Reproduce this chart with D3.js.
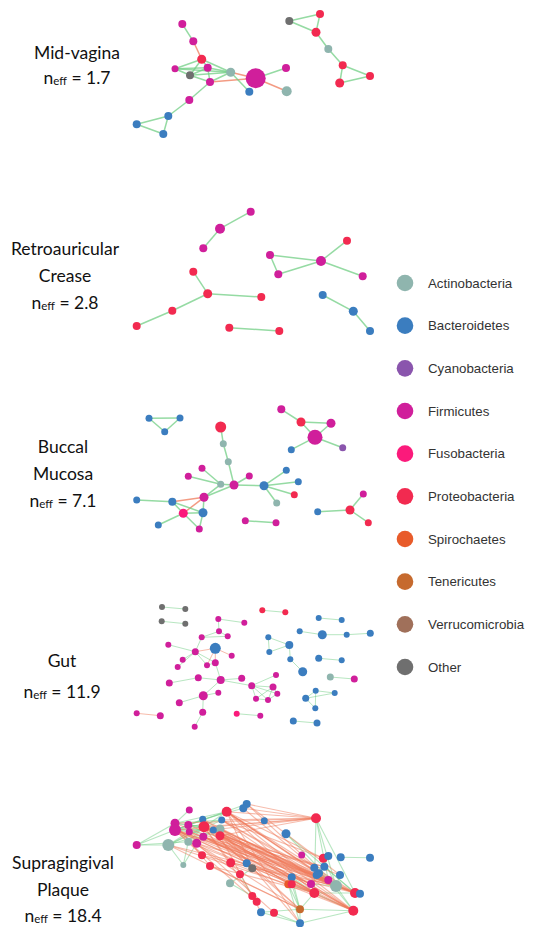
<!DOCTYPE html>
<html>
<head>
<meta charset="utf-8">
<script src="https://cdn.jsdelivr.net/npm/d3@7/dist/d3.min.js"></script>
<style>
  body { margin: 0; background: #fff; }
  svg { display: block; }
  .label { font-family: Lato, "Open Sans", sans-serif; fill: #111; }
  .legend text { font-family: "Liberation Sans", Arial, sans-serif; font-size: 13.3px; fill: #333; }
</style>
</head>
<body>
<div id="chart"></div>
<script>
var w = 539;
var h = 927;

// phyla shown in the legend
var phyla = ["Actinobacteria", "Bacteroidetes", "Cyanobacteria", "Firmicutes", "Fusobacteria",
  "Proteobacteria", "Spirochaetes", "Tenericutes", "Verrucomicrobia", "Other"];
var phylaCodes = ["Act", "Bac", "Cya", "Fir", "Fus", "Pro", "Spi", "Ten", "Ver", "Oth"];
var phylaColors = ["#8fb5ae", "#3b7dbf", "#8a55ad", "#d01f9b", "#fb1a7b",
  "#f22a50", "#e85b2a", "#c66a2e", "#a0705a", "#6f6f6f"];

// body sites, top to bottom
var sites = ["Mid-vagina", "Retroauricular Crease", "Buccal Mucosa", "Gut", "Supragingival Plaque"];
var siteLines = [["Mid-vagina"], ["Retroauricular", "Crease"], ["Buccal", "Mucosa"], ["Gut"], ["Supragingival", "Plaque"]];
var neff = ["1.7", "2.8", "7.1", "11.9", "18.4"];

// nodes: [x, y, phylum, size] in layout units of each panel
var vaginaNodes = [
  [52.3, 24, "Fir", 4], [63.3, 41.3, "Fir", 4], [71.7, 59.3, "Pro", 4.5], [45, 68.7, "Fir", 3.5],
  [60, 75.3, "Oth", 4], [77.7, 67.7, "Fir", 4], [80, 82, "Fir", 4], [100.7, 72.3, "Act", 4.5],
  [125.7, 78.3, "Fir", 10], [156, 68, "Fir", 4], [156.7, 91.3, "Act", 5], [119.3, 91.7, "Bac", 4],
  [59.3, 100, "Fir", 4], [38.3, 116, "Bac", 4], [6.7, 124.3, "Bac", 4], [33.3, 134, "Bac", 4],
  [159.3, 21, "Oth", 4], [190, 14, "Pro", 4], [186, 32.3, "Pro", 4.5], [198.3, 49, "Act", 4],
  [212.7, 65.3, "Pro", 4], [240, 76, "Pro", 4], [209.7, 83, "Pro", 4.5]
];
// edges: [source, target, sign] (1 = positive, -1 = negative)
var vaginaEdges = [
  [0, 1, 1], [1, 2, -1], [2, 3, 1], [2, 4, 1], [2, 5, 1], [2, 7, 1], [3, 4, 1], [3, 5, 1], [3, 7, 1],
  [4, 5, 1], [4, 6, 1], [4, 7, 1], [5, 6, 1], [5, 7, 1], [6, 7, 1], [6, 8, -1], [7, 8, -1],
  [8, 10, -1], [8, 9, 1], [7, 11, 1], [6, 12, 1], [12, 13, 1], [13, 14, 1], [14, 15, 1], [13, 15, 1],
  [16, 17, 1], [16, 18, 1], [17, 18, 1], [18, 19, 1], [19, 20, 1], [20, 22, 1], [20, 21, 1], [21, 22, 1]
];

var skinNodes = [
  [120.7, 11.7, "Fir", 4], [90, 28.7, "Fir", 5], [73.3, 48.3, "Fir", 4], [140, 55, "Fir", 4],
  [148.3, 74.3, "Fir", 4], [191, 61, "Fir", 5], [217, 40.7, "Pro", 4], [232.7, 76.3, "Fir", 4],
  [63.3, 71.7, "Pro", 4], [77.7, 93.7, "Pro", 4.5], [131.3, 97, "Pro", 4], [42.3, 110.7, "Pro", 4],
  [6.7, 126, "Pro", 4], [99.3, 127.7, "Pro", 4], [149.3, 131, "Pro", 4], [192.7, 95, "Bac", 4],
  [223.3, 111.3, "Bac", 4.5], [240, 131, "Bac", 4]
];
var skinEdges = [
  [0, 1, 1], [1, 2, 1], [3, 4, 1], [3, 5, 1], [4, 5, 1], [5, 6, 1], [5, 7, 1], [8, 9, 1],
  [9, 10, 1], [9, 11, 1], [11, 12, 1], [13, 14, 1], [15, 16, 1], [16, 17, 1]
];

var buccalNodes = [
  [19, 23.3, "Bac", 3.5], [50, 23, "Bac", 3.5], [34.7, 36.7, "Bac", 3.5], [151.3, 14.3, "Fir", 4],
  [171, 27, "Pro", 4.5], [201, 28.3, "Fir", 4.5], [185, 42.3, "Fir", 7.5], [161.3, 54.7, "Bac", 3.5],
  [212.7, 52.7, "Cya", 3.5], [90.7, 32, "Pro", 5.5], [93.3, 48.7, "Act", 3.5], [98.3, 66.7, "Act", 3.5],
  [72, 73.3, "Fir", 3.5], [58.3, 81.3, "Fir", 3.5], [90.7, 89.3, "Act", 3.5], [104, 90, "Fir", 4.5],
  [119.3, 81, "Fir", 3.5], [134, 90.7, "Bac", 4.5], [156.3, 75.3, "Bac", 3.5], [168.3, 86.7, "Bac", 3.5],
  [164.3, 99.7, "Pro", 3.5], [146.7, 108, "Act", 3.5], [74, 102.3, "Fir", 4.5], [6.7, 105, "Bac", 3.5],
  [42.3, 106.7, "Bac", 4], [53.3, 118.3, "Fus", 4.5], [73, 117.7, "Bac", 4.5], [28.3, 130, "Bac", 3.5],
  [69.3, 134, "Fir", 3.5], [115.3, 125.7, "Fir", 3.5], [146, 127.7, "Fir", 3.5], [187.7, 116.7, "Bac", 3.5],
  [220, 115, "Pro", 4.5], [233.3, 99, "Fir", 3.5], [238.3, 127.7, "Pro", 3.5]
];
var buccalEdges = [
  [0, 1, 1], [1, 2, 1], [0, 2, 1], [3, 4, 1], [4, 5, 1], [4, 6, 1], [5, 6, 1], [6, 7, 1], [6, 8, 1],
  [9, 10, 1], [10, 11, 1], [11, 15, 1], [12, 14, 1], [13, 14, 1], [14, 15, 1], [16, 15, 1], [15, 17, 1],
  [17, 18, 1], [17, 19, 1], [17, 20, 1], [17, 21, 1], [15, 22, 1], [14, 22, 1], [22, 24, -1], [22, 25, -1],
  [23, 24, 1], [24, 26, 1], [25, 26, 1], [22, 26, 1], [24, 25, 1], [25, 27, 1], [25, 28, 1], [26, 28, 1],
  [29, 30, 1], [31, 32, 1], [32, 33, 1], [32, 34, 1]
];

var gutNodes = [
  [32, 12, "Oth", 3], [55.3, 14, "Oth", 3], [31.7, 26.3, "Oth", 3], [55.3, 28.7, "Oth", 3],
  [132.3, 15.3, "Pro", 3], [155.3, 17.3, "Pro", 3], [188.7, 23, "Bac", 3], [211.7, 25, "Bac", 3],
  [169.7, 36.3, "Bac", 3], [192.3, 39.7, "Bac", 4.5], [216.7, 39.7, "Bac", 3], [240.3, 38.3, "Bac", 3.5],
  [138.3, 42.3, "Bac", 3], [159.3, 50, "Bac", 4], [139.3, 57, "Bac", 3], [160.3, 64.3, "Bac", 3],
  [172.7, 76.7, "Bac", 4.5], [188.7, 63.3, "Bac", 3.5], [211.7, 65.3, "Bac", 3], [200.3, 82, "Act", 3.5],
  [224.3, 84, "Fir", 3.5], [185.7, 95.7, "Bac", 3], [204.7, 98, "Bac", 3], [175.7, 103.3, "Bac", 3.5],
  [185.3, 113.3, "Bac", 3], [163.3, 126, "Bac", 3.5], [187, 128, "Bac", 3.5],
  [88.3, 24, "Fir", 3], [114.3, 27.7, "Fir", 3], [89, 36.3, "Fir", 3], [71.7, 42.3, "Fir", 3],
  [97.7, 41.3, "Fir", 3], [38.3, 49.7, "Fir", 3], [85.3, 53.3, "Bac", 5.5], [65.3, 56.7, "Fir", 3.5],
  [101.7, 60.7, "Fir", 3], [52.7, 64.7, "Fir", 3], [77, 70.3, "Fir", 3], [85.3, 67.7, "Fir", 3.5],
  [47.7, 72, "Fir", 3], [68.3, 82.7, "Fir", 3.5], [90.7, 85, "Fir", 4], [111.7, 83.3, "Fir", 3.5],
  [39.3, 88, "Fir", 3.5], [146, 80, "Fir", 3], [121.7, 90.7, "Fir", 3.5], [143, 92, "Fir", 3.5],
  [73.3, 100.7, "Fir", 4.5], [88.3, 97.7, "Fir", 3], [147.3, 98.7, "Fir", 3], [126, 103.7, "Fir", 3],
  [138, 105, "Fir", 3], [49.3, 107.7, "Fir", 3.5], [72.7, 117.3, "Fir", 3.5], [64.7, 131.7, "Fir", 3],
  [6.7, 118.3, "Fir", 3], [30.3, 120.7, "Fir", 3.5], [106.7, 118.7, "Fus", 3], [130.3, 120.7, "Fir", 3]
];
var gutEdges = [
  [0, 1, 1], [2, 3, 1], [4, 5, 1], [6, 7, 1], [8, 9, 1], [9, 10, 1], [10, 11, 1], [12, 13, 1],
  [12, 14, 1], [13, 14, 1], [13, 15, 1], [15, 16, 1], [17, 18, 1], [19, 20, 1], [21, 22, 1],
  [21, 23, 1], [23, 24, 1], [21, 24, 1], [22, 23, 1], [25, 26, 1],
  [27, 28, 1], [27, 29, 1], [29, 30, 1], [29, 31, 1], [30, 31, 1], [30, 34, 1], [32, 34, 1],
  [33, 34, -1], [33, 35, -1], [33, 37, -1], [33, 38, -1], [34, 37, 1], [34, 36, 1], [34, 38, 1],
  [37, 38, 1], [39, 34, 1], [38, 41, 1], [40, 41, 1], [41, 42, 1], [41, 45, 1], [43, 40, 1],
  [41, 47, 1], [47, 48, 1], [47, 52, 1], [47, 53, 1], [53, 54, 1], [45, 44, 1], [45, 46, 1],
  [45, 49, 1], [45, 50, 1], [45, 51, 1], [46, 49, 1], [46, 50, 1], [46, 51, 1], [49, 51, 1],
  [50, 51, 1], [55, 56, -1], [57, 58, 1]
];

var plaqueNodes = [
  [116.7, 9, "Bac", 4], [113.3, 13.3, "Bac", 4], [96.7, 16.7, "Pro", 5], [59.3, 15, "Fir", 3.5],
  [72.7, 24.3, "Bac", 3.5], [91.7, 25, "Bac", 3.5], [45, 28.3, "Fir", 4.5], [45, 35, "Fir", 6],
  [58.3, 30, "Fir", 4], [74, 31.7, "Pro", 5.5], [90, 34, "Act", 4.5], [83.3, 35, "Bac", 3.5],
  [59.3, 36.7, "Fir", 3.5], [73.3, 41.7, "Fir", 4], [90, 40.7, "Pro", 4.5], [58.3, 46.7, "Act", 4],
  [38.3, 50, "Act", 6], [66.7, 48.3, "Fir", 4.5], [6.7, 50, "Fir", 4], [134.3, 25.7, "Bac", 3.5],
  [186, 23.3, "Pro", 5], [156, 38.7, "Bac", 4.5], [72, 60.3, "Pro", 4], [53.3, 70, "Act", 3],
  [80, 71, "Pro", 4], [100.7, 67.7, "Pro", 4.5], [116.7, 68.3, "Bac", 4], [122.3, 73.3, "Oth", 4],
  [110, 79.3, "Pro", 4], [100, 88.3, "Act", 4], [171.7, 60, "Fir", 3.5], [193.3, 63.3, "Pro", 4.5],
  [198.3, 61, "Bac", 4], [210.7, 62.3, "Bac", 4], [240, 62.7, "Bac", 4], [184.3, 72.7, "Bac", 4],
  [194.3, 71.7, "Bac", 4], [189, 78.3, "Bac", 4], [186.7, 80, "Bac", 4], [210, 80, "Bac", 4],
  [161.7, 82.3, "Bac", 4], [198.3, 85, "Fir", 4], [158.3, 89.3, "Spi", 4], [161.7, 89.3, "Pro", 4],
  [181, 89, "Fir", 4], [206, 91, "Act", 6], [184.3, 98, "Pro", 5], [225, 98, "Pro", 5],
  [230, 98.7, "Bac", 4], [122.3, 101, "Pro", 4], [126.7, 106.7, "Pro", 4], [131, 117.3, "Bac", 4],
  [144, 117.7, "Pro", 4], [170, 114.3, "Ten", 4], [223.3, 115.7, "Pro", 5], [170, 128.3, "Bac", 4]
];
var plaqueEdges = [
  // positive
  [18, 7, 1], [18, 16, 1], [18, 15, 1], [18, 6, 1], [6, 2, 1], [7, 2, 1], [7, 4, 1], [7, 5, 1],
  [7, 9, 1], [7, 10, 1], [7, 14, 1], [6, 9, 1], [8, 9, 1], [8, 10, 1], [16, 10, 1], [16, 9, 1],
  [16, 5, 1], [15, 9, 1], [15, 10, 1], [16, 23, 1], [15, 23, 1], [23, 17, 1], [12, 10, 1], [1, 4, 1],
  [0, 7, 1], [3, 6, 1], [13, 9, 1], [16, 12, 1], [7, 11, 1], [6, 11, 1], [6, 5, 1], [2, 9, 1],
  [20, 45, 1], [20, 41, 1], [20, 47, 1], [20, 46, 1], [21, 45, 1], [21, 47, 1], [33, 34, 1],
  [44, 45, 1], [45, 47, 1], [45, 48, 1], [45, 54, 1], [46, 47, 1], [46, 54, 1], [46, 42, 1],
  [42, 53, 1], [53, 55, 1], [42, 55, 1], [53, 54, 1], [55, 54, 1], [43, 53, 1], [40, 43, 1],
  [40, 53, 1], [40, 46, 1], [51, 53, 1], [27, 29, 1], [28, 49, 1], [29, 49, 1], [31, 45, 1],
  [38, 45, 1], [37, 41, 1], [36, 47, 1], [35, 41, 1], [32, 36, 1], [39, 45, 1], [46, 53, 1],
  [41, 54, 1], [51, 55, 1], [52, 55, 1],
  // negative
  [2, 20, -1], [9, 20, -1], [7, 20, -1], [5, 20, -1], [1, 20, -1], [0, 20, -1], [14, 20, -1],
  [10, 20, -1], [6, 20, -1], [2, 45, -1], [9, 45, -1], [7, 45, -1], [14, 45, -1], [10, 45, -1],
  [13, 45, -1], [5, 45, -1], [4, 45, -1], [16, 45, -1], [8, 45, -1], [0, 45, -1], [11, 45, -1],
  [2, 47, -1], [9, 47, -1], [7, 47, -1], [14, 47, -1], [6, 47, -1], [10, 47, -1], [17, 47, -1],
  [5, 47, -1], [12, 47, -1], [9, 46, -1], [7, 46, -1], [2, 46, -1], [13, 46, -1], [14, 46, -1],
  [15, 46, -1], [16, 46, -1], [11, 46, -1], [2, 54, -1], [9, 54, -1], [7, 54, -1], [14, 54, -1],
  [10, 54, -1], [13, 54, -1], [4, 54, -1], [5, 54, -1], [17, 54, -1], [9, 41, -1], [7, 41, -1],
  [2, 41, -1], [14, 41, -1], [12, 41, -1], [9, 37, -1], [2, 37, -1], [7, 36, -1], [14, 36, -1],
  [10, 38, -1], [9, 39, -1], [0, 39, -1], [1, 35, -1], [5, 31, -1], [2, 31, -1], [7, 44, -1],
  [13, 44, -1], [7, 53, -1], [9, 53, -1], [14, 53, -1], [2, 55, -1], [10, 55, -1], [16, 53, -1],
  [9, 42, -1], [13, 43, -1], [9, 49, -1], [7, 50, -1], [14, 51, -1], [7, 28, -1], [9, 26, -1],
  [2, 27, -1], [17, 52, -1], [6, 24, -1], [7, 22, -1], [9, 25, -1], [25, 45, -1], [24, 46, -1],
  [22, 47, -1], [25, 54, -1], [24, 53, -1]
];

var panelNodes = [vaginaNodes, skinNodes, buccalNodes, gutNodes, plaqueNodes];
var panelEdges = [vaginaEdges, skinEdges, buccalEdges, gutEdges, plaqueEdges];

// layout of the figure
var panelTop = [0, 200, 395, 595, 795];
var labelX = [77, 65, 63, 62, 63];
var labelBase = [59, 255, 453, 667, 869];
var lineGap = [25, 27, 27, 31, 26.5];

var color = d3.scaleOrdinal().domain(phylaCodes).range(phylaColors);
var edgeColor = function(s) { return s > 0 ? "#72cf85" : "#f07a5a"; };

var svg = d3.select("#chart").append("svg")
  .attr("width", w)
  .attr("height", h);

var x = d3.scaleLinear().domain([0, 250]).range([130, 380]);
var r = d3.scaleLinear().domain([0, 10]).range([0, 10]);

sites.forEach(function(site, p) {
  var y = d3.scaleLinear().domain([0, 140]).range([panelTop[p], panelTop[p] + 140]);
  var nodes = panelNodes[p];
  var g = svg.append("g").attr("class", "panel");

  g.selectAll(".link")
      .data(panelEdges[p])
    .enter().append("line")
      .attr("class", "link")
      .attr("x1", function(d) { return x(nodes[d[0]][0]); })
      .attr("y1", function(d) { return y(nodes[d[0]][1]); })
      .attr("x2", function(d) { return x(nodes[d[1]][0]); })
      .attr("y2", function(d) { return y(nodes[d[1]][1]); })
      .style("stroke", function(d) { return edgeColor(d[2]); })
      .style("stroke-width", p == 3 ? 1 : (p == 4 ? 1.1 : 1.5))
      .style("opacity", p == 4 ? 0.5 : (p == 3 ? 0.5 : 0.75));

  g.selectAll(".node")
      .data(nodes)
    .enter().append("circle")
      .attr("class", "node")
      .attr("cx", function(d) { return x(d[0]); })
      .attr("cy", function(d) { return y(d[1]); })
      .attr("r", function(d) { return r(d[3]); })
      .style("fill", function(d) { return color(d[2]); });

  // site label
  var lab = svg.append("text")
    .attr("class", "label")
    .attr("text-anchor", "middle")
    .style("font-size", "17.5px");
  siteLines[p].forEach(function(line, i) {
    lab.append("tspan")
      .attr("x", labelX[p])
      .attr("y", labelBase[p] + i * lineGap[p])
      .text(line);
  });
  var nl = lab.append("tspan")
    .attr("x", labelX[p])
    .attr("y", labelBase[p] + siteLines[p].length * lineGap[p]);
  nl.text("n");
  lab.append("tspan").style("font-size", "11.5px").attr("dy", 1).text("eff");
  lab.append("tspan").attr("dy", -1).text(" = " + neff[p]);
});

//legend
var legend = svg.append("g").attr("class", "legend");
var ly = d3.scalePoint().domain(phyla).range([283, 667]);
var item = legend.selectAll(".item")
    .data(phyla)
  .enter().append("g")
    .attr("class", "item")
    .attr("transform", function(d) { return "translate(405," + ly(d) + ")"; });
item.append("circle")
  .attr("r", 8.3)
  .style("fill", function(d, i) { return phylaColors[i]; });
item.append("text")
  .attr("x", 23)
  .attr("dy", "0.35em")
  .text(function(d) { return d; });
</script>
</body>
</html>
